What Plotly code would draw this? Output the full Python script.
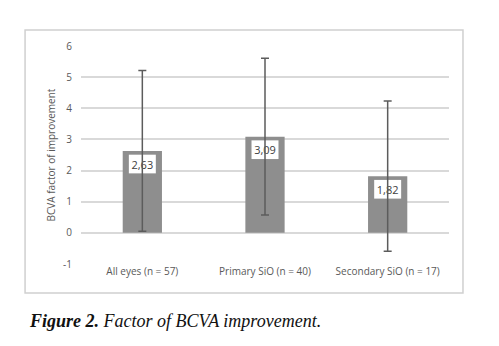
import plotly.graph_objects as go

# Group labels and summary statistics
groups = ["All eyes (n = 57)", "Primary SiO (n = 40)", "Secondary SiO (n = 17)"]
means = [2.63, 3.09, 1.82]
sd = [2.58, 2.52, 2.41]
value_labels = ["2,63", "3,09", "1,82"]
y_ticks = [-1, 0, 1, 2, 3, 4, 5, 6]

BAR = "#8e8e8e"
ERR = "#5c5c5c"
GRID = "#d9d9d9"
TXT = "#595959"
BOX_H = 0.6   # height of the value-label box, axis units
BOX_DROP = 0.12  # gap between bar top and label box

fig = go.Figure()

# Gray mean bars
fig.add_trace(go.Bar(
    x=groups, y=means, marker=dict(color=BAR, line=dict(width=0)),
    width=0.32, hoverinfo="skip", showlegend=False,
))

# White value-label boxes sitting just under each bar top
fig.add_trace(go.Bar(
    x=groups, y=[BOX_H] * len(means),
    base=[m - BOX_DROP - BOX_H for m in means],
    width=0.22, marker=dict(color="white", line=dict(width=0)),
    text=value_labels, textposition="inside", insidetextanchor="middle",
    textfont=dict(family="Open Sans, Liberation Sans, sans-serif", size=11, color="#404040"),
    constraintext="none", textangle=0,
    hoverinfo="skip", showlegend=False,
))

# Standard-deviation whiskers drawn above bars and labels
fig.add_trace(go.Scatter(
    x=groups, y=means, mode="markers",
    marker=dict(size=1, color="rgba(0,0,0,0)"),
    error_y=dict(type="data", array=sd, visible=True, color=ERR, thickness=1.5, width=4),
    hoverinfo="skip", showlegend=False,
))

fig.update_layout(
    width=499, height=346,
    margin=dict(l=81, r=50, t=46, b=82),
    paper_bgcolor="white", plot_bgcolor="white",
    barmode="overlay",
    xaxis=dict(
        showgrid=False, zeroline=False, showline=False, ticks="",
        tickfont=dict(family="Open Sans, Liberation Sans, sans-serif", size=10, color=TXT),
    ),
    yaxis=dict(
        range=[-1, 6], tickvals=y_ticks, ticktext=[str(t) for t in y_ticks],
        showgrid=True, gridcolor=GRID, gridwidth=1.5, zeroline=False, showline=False,
        ticks="", ticklabelstandoff=8,
        tickfont=dict(family="Open Sans, Liberation Sans, sans-serif", size=10, color=TXT),
        title=dict(text="BCVA factor of improvement", standoff=5,
                   font=dict(family="Open Sans, Liberation Sans, sans-serif", size=10, color=TXT)),
    ),
    shapes=[dict(
        type="rect", xref="paper", yref="paper",
        x0=-0.152, x1=1.038, y0=-0.133, y1=1.073,
        line=dict(color="#d0d0d0", width=1.5), fillcolor="rgba(0,0,0,0)", layer="below",
    )],
    annotations=[dict(
        xref="paper", yref="paper", x=-0.147, y=-0.262, xanchor="left", yanchor="middle",
        showarrow=False,
        text="<b><i>Figure 2.</i></b><i> Factor of BCVA improvement.</i>",
        font=dict(family="Liberation Serif, Times New Roman, serif", size=18, color="#111111"),
    )],
)

fig.write_html("out.html")
